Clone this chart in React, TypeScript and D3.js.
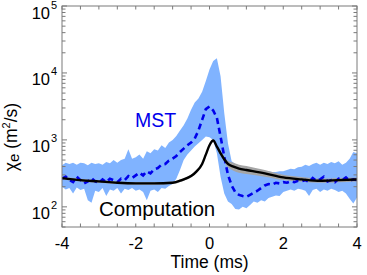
import React from "react";
import * as d3 from "d3";

// time axis (ms) for the MST ensemble
const mstTime = d3.range(81).map((i) => -4 + i * 0.1);

// MST band upper edge (m^2/s)
const mstUpper = [
  417, 457, 437, 457, 427, 457, 447, 417, 457, 437,
  447, 427, 468, 447, 501, 457, 501, 525, 724, 525,
  550, 603, 525, 676, 631, 724, 692, 832, 759, 912,
  1000, 1148, 1380, 1660, 2089, 2818, 3631, 4169, 5248, 7586,
  11220, 15140, 16600, 8913, 2512, 891, 479, 437, 417, 398,
  380, 372, 363, 355, 347, 339, 339, 331, 331, 339,
  339, 355, 372, 363, 389, 398, 427, 407, 437, 457,
  427, 457, 437, 468, 447, 479, 427, 457, 525, 661,
  631,
];

// MST band lower edge (m^2/s)
const mstLower = [
  200, 182, 191, 158, 195, 178, 186, 126, 115, 174,
  166, 191, 145, 182, 174, 191, 158, 186, 178, 191,
  174, 182, 166, 126, 174, 182, 166, 191, 186, 204,
  219, 263, 355, 501, 603, 692, 794, 891, 1000, 1122,
  1096, 1000, 631, 282, 158, 120, 110, 93, 91, 100,
  95, 107, 120, 115, 126, 120, 135, 141, 148, 145,
  166, 174, 182, 174, 186, 182, 174, 145, 178, 186,
  166, 182, 174, 186, 178, 166, 174, 158, 132, 112,
  138,
];

// MST mean (dashed)
const mstMean = [
  263, 282, 251, 234, 282, 251, 224, 240, 269, 240,
  229, 257, 234, 263, 251, 234, 263, 251, 288, 269,
  295, 324, 295, 339, 316, 363, 380, 427, 437, 490,
  525, 575, 661, 741, 832, 912, 1047, 1380, 1995, 2884,
  3162, 2754, 2138, 1122, 562, 302, 209, 166, 151, 145,
  141, 151, 162, 174, 191, 209, 219, 214, 229, 224,
  234, 229, 240, 234, 245, 240, 251, 234, 269, 245,
  257, 282, 240, 251, 234, 263, 251, 275, 245, 257,
  251,
];

// Computation
const compTime = [-4, -3.5, -3, -2.5, -2, -1.5, -1, -0.75, -0.5, -0.35, -0.2, -0.1, 0, 0.1, 0.2, 0.3, 0.4, 0.5, 0.65, 0.8, 1, 1.5, 2, 2.5, 3, 3.5, 4];
const compValue = [269, 251, 240, 229, 224, 224, 229, 251, 288, 339, 437, 603, 832, 977, 794, 631, 513, 437, 398, 372, 355, 316, 275, 257, 245, 251, 257];
const compUpper = [282, 263, 251, 240, 234, 234, 240, 263, 302, 355, 457, 631, 871, 1023, 841, 676, 562, 490, 457, 427, 407, 355, 302, 279, 263, 269, 275];
const compLower = [257, 240, 229, 219, 214, 214, 219, 240, 275, 324, 417, 575, 794, 933, 750, 589, 468, 389, 347, 324, 309, 282, 251, 237, 229, 234, 240];

const xTicks = [-4, -2, 0, 2, 4];
const yDecades = [2, 3, 4, 5];

const W = 367;
const H = 275;
const L = 62, R = 357, T = 6, B = 227;
const FONT = "'Liberation Sans', Arial, Helvetica, sans-serif";
const BLUE_BAND = "rgb(128,179,255)";
const BLUE = "rgb(0,0,235)";
const GRAY = "rgb(165,165,165)";
const AXIS = "#7a7a7a";

export default function App() {
  const x = d3.scaleLinear().domain([-4, 4]).range([L, R]);
  const y = d3.scaleLog().domain([50, 1e5]).range([B, T]);

  const mstArea = d3
    .area<number>()
    .x((_, i) => x(mstTime[i]))
    .y0((_, i) => y(mstLower[i]))
    .y1((_, i) => y(mstUpper[i]))(mstTime as any);
  const mstLine = d3
    .line<number>()
    .x((_, i) => x(mstTime[i]))
    .y((d) => y(d))(mstMean);
  const compArea = d3
    .area<number>()
    .curve(d3.curveMonotoneX)
    .x((_, i) => x(compTime[i]))
    .y0((_, i) => y(compLower[i]))
    .y1((_, i) => y(compUpper[i]))(compTime as any);
  const compLine = d3
    .line<number>()
    .curve(d3.curveMonotoneX)
    .x((_, i) => x(compTime[i]))
    .y((d) => y(d))(compValue);

  const xMinor = d3.range(-4, 4.01, 0.5);
  const yMinor: number[] = [];
  for (let e = 1; e <= 4; e++) {
    for (let m = 2; m <= 9; m++) {
      const v = m * Math.pow(10, e);
      if (v >= 50 && v <= 1e5) yMinor.push(v);
    }
  }

  return (
    <svg width={W} height={H} style={{ position: "absolute", left: 0, top: 0 }} fontFamily={FONT}>
      <defs>
        <clipPath id="plot">
          <rect x={L} y={T} width={R - L} height={B - T} />
        </clipPath>
      </defs>
      <g clipPath="url(#plot)">
        <path d={mstArea || ""} fill={BLUE_BAND} stroke="none" />
        <path d={compArea || ""} fill={GRAY} stroke="none" />
        <path d={mstLine || ""} fill="none" stroke={BLUE} strokeWidth={2.6} strokeDasharray="6,4" />
        <path d={compLine || ""} fill="none" stroke="#000" strokeWidth={2.4} />
      </g>
      {/* box */}
      <rect x={L} y={T} width={R - L} height={B - T} fill="none" stroke={AXIS} strokeWidth={1} />
      {/* x ticks */}
      {xMinor.map((t) => (
        <g key={"xt" + t}>
          <line x1={x(t)} x2={x(t)} y1={B} y2={B - 3.5} stroke={AXIS} />
          <line x1={x(t)} x2={x(t)} y1={T} y2={T + 3.5} stroke={AXIS} />
        </g>
      ))}
      {/* y ticks */}
      {yMinor.map((v) => (
        <g key={"ym" + v}>
          <line x1={L} x2={L + 3.5} y1={y(v)} y2={y(v)} stroke={AXIS} />
          <line x1={R} x2={R - 3.5} y1={y(v)} y2={y(v)} stroke={AXIS} />
        </g>
      ))}
      {yDecades.map((e) => (
        <g key={"yM" + e}>
          <line x1={L} x2={L + 5} y1={y(Math.pow(10, e))} y2={y(Math.pow(10, e))} stroke={AXIS} />
          <line x1={R} x2={R - 5} y1={y(Math.pow(10, e))} y2={y(Math.pow(10, e))} stroke={AXIS} />
          <text x={50} y={y(Math.pow(10, e)) + 12.5} fontSize={16.5} textAnchor="end" fill="#000">10</text>
          <text x={51} y={y(Math.pow(10, e)) + 2.5} fontSize={11} fill="#000">{e}</text>
        </g>
      ))}
      {xTicks.map((t) => (
        <text key={"xl" + t} x={x(t)} y={249} fontSize={16.5} textAnchor="middle" fill="#000">
          {t < 0 ? "-" + Math.abs(t) : String(t)}
        </text>
      ))}
      <text x={(L + R) / 2} y={268} fontSize={17.5} textAnchor="middle" fill="#000">Time (ms)</text>
      <text transform="translate(17,137) rotate(-90)" fontSize={17.5} textAnchor="middle" fill="#000">
        <tspan>χ</tspan>
        <tspan fontSize={15} dy={1.5}>e</tspan>
        <tspan dy={-1.5}> (m</tspan>
        <tspan fontSize={11} dy={-7}>2</tspan>
        <tspan dy={7}>/s)</tspan>
      </text>
      <text x={135} y={127} fontSize={19.5} fill={BLUE}>MST</text>
      <text x={99} y={216} fontSize={20.5} fill="#000">Computation</text>
    </svg>
  );
}
